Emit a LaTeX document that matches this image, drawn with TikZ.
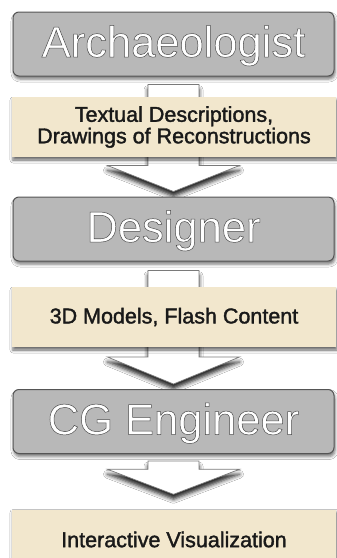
\documentclass[tikz,border=0pt]{standalone}
\usepackage{fontspec}
\setmainfont{Liberation Sans}
\usetikzlibrary{calc,shadows.blur,backgrounds}
\definecolor{boxgray}{HTML}{B8B8B8}
\definecolor{boxedge}{HTML}{555555}
\definecolor{beige}{HTML}{F2E7CD}
\definecolor{arrowedge}{HTML}{7A7A7A}
\definecolor{itemtext}{HTML}{1A1A1A}
\newcommand\outl[1]{\special{pdf:literal direct 2 Tr 0.5 w 0.3 0.3 0.3 RG}#1\special{pdf:literal direct 0 Tr}}
\newcommand\heavy[1]{\special{pdf:literal direct 2 Tr 0.35 w 0.1 0.1 0.1 RG}#1\special{pdf:literal direct 0 Tr}}
\tikzset{
  rolebox/.style={draw=boxedge, line width=1pt, fill=boxgray, rounded corners=6pt,
    minimum width=321pt, minimum height=64pt, inner sep=0pt, text=white,
    text height=31pt, text depth=5pt,
    font=\fontsize{43.5}{48}\selectfont,
    blur shadow={shadow xshift=1pt, shadow yshift=-3pt, shadow opacity=55, shadow blur radius=3pt}},
  itembox/.style={fill=beige, minimum width=324pt, minimum height=60pt, inner sep=0pt,
    align=center, text=itemtext, font=\fontsize{21.5}{21.5}\selectfont,
    blur shadow={shadow xshift=1pt, shadow yshift=-3pt, shadow opacity=60, shadow blur radius=3pt}},
  blockarrow/.style={fill=white, draw=arrowedge, line width=0.7pt, line join=miter,
    blur shadow={shadow xshift=0pt, shadow yshift=-5pt, shadow opacity=85, shadow blur radius=4pt}}
}
\begin{document}
\begin{tikzpicture}[x=1pt,y=-1pt]
\useasboundingbox (0,0) rectangle (337,558);
\clip (0,0) rectangle (337,558);
\node[rolebox] (arch) at (173.5,44) {\outl{Archaeologist}};
\node[itembox] (texts) at (174,127) {\heavy{Textual Descriptions,}\\\heavy{Drawings of Reconstructions}};
\node[rolebox] (design) at (173.5,229) {\outl{Designer}};
\node[itembox] (models) at (174,317) {\heavy{3D Models, Flash Content}};
\node[rolebox] (cg) at (173.5,421.5) {\outl{CG Engineer}};
\node[itembox] (vis) at (174,539.5) {\heavy{Interactive Visualization}};
\begin{scope}[on background layer]
  \fill[white] (0,0) rectangle (337,558);
  \draw[blockarrow] let \p1 = ($(arch.south)+(0,8)$), \p2 = ($(design.north)+(0,-5)$) in
    (\x1-25.5pt,\y1) -- (\x1+25.5pt,\y1) -- (\x1+25.5pt,\y2+26pt) -- (\x1+66pt,\y2+26pt)
    -- (\x1,\y2) -- (\x1-66pt,\y2+26pt) -- (\x1-25.5pt,\y2+26pt) -- cycle;
  \draw[blockarrow] let \p1 = ($(design.south)+(0,9)$), \p2 = ($(cg.north)+(0,-5)$) in
    (\x1-25.5pt,\y1) -- (\x1+25.5pt,\y1) -- (\x1+25.5pt,\y2+27pt) -- (\x1+66pt,\y2+27pt)
    -- (\x1,\y2) -- (\x1-66pt,\y2+27pt) -- (\x1-25.5pt,\y2+27pt) -- cycle;
  \draw[blockarrow] let \p1 = ($(cg.south)+(0,7)$), \p2 = ($(vis.north)+(0,-15)$) in
    (\x1-25.5pt,\y1) -- (\x1+25.5pt,\y1) -- (\x1+25.5pt,\y2+25pt) -- (\x1+66pt,\y2+25pt)
    -- (\x1,\y2) -- (\x1-66pt,\y2+25pt) -- (\x1-25.5pt,\y2+25pt) -- cycle;
\end{scope}
\end{tikzpicture}
\end{document}
